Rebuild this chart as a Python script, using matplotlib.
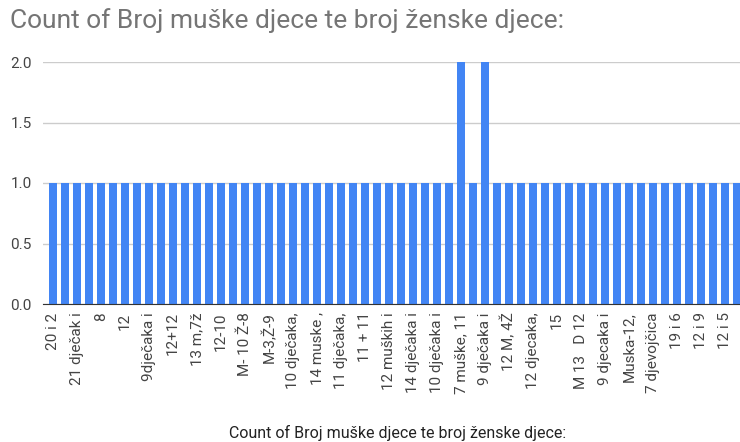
import matplotlib.pyplot as plt

plt.rcParams['font.family'] = ['Roboto', 'DejaVu Sans']

# tick labels shown on every other bar
labels = ['20 i 2', '21 dječak i', '8', '12', '9dječaka i', '12+12', '13 m,7ž',
          '12-10', 'M- 10 Ž-8', 'M-3,Ž-9', '10 dječaka,', '14 muske ,',
          '11 dječaka,', '11 + 11', '12 muških i', '14 dječaka i', '10 dječaka i',
          '7 muške, 11', '9 dječaka i', '12 M, 4Ž', '12 djecaka,', '15',
          'M 13   D 12', '9 djecaka i', 'Muska-12,', '7 djevojčica', '19 i 6',
          '12 i 9', '12 i 5']

# count per bar (58 bars, two of them at 2)
counts = [1] * 34 + [2, 1, 2] + [1] * 21

title = 'Count of Broj muške djece te broj ženske djece:'

fig = plt.figure(figsize=(7.4, 4.42), dpi=100)
ax = fig.add_axes([43 / 740, 1 - 304 / 442, 697 / 740, 242 / 442])

x = range(len(counts))
ax.bar(x, counts, width=0.68, color='#4285F4', zorder=3)

ax.set_xlim(-0.83, 57.25)
ax.set_ylim(0, 2.0)
ax.set_yticks([0, 0.5, 1.0, 1.5, 2.0])
ax.set_yticklabels(['0.0', '0.5', '1.0', '1.5', '2.0'])
ax.grid(axis='y', color='#cccccc', linewidth=1, zorder=0)
ax.set_xticks(list(range(0, 2 * len(labels), 2)))
ax.set_xticklabels(labels, rotation=90, va='top', ha='center')

for s in ['top', 'right', 'left']:
    ax.spines[s].set_visible(False)
ax.spines['bottom'].set_color('#333333')
ax.spines['bottom'].set_zorder(4)
ax.tick_params(axis='both', length=0, labelsize=11, colors='#444444', pad=6)
ax.tick_params(axis='y', pad=8)

fig.text(10 / 740, 1 - 21 / 442, title, fontsize=19, color='#757575',
         va='center', ha='left')
fig.text(398 / 740, 1 - 433 / 442, title, fontsize=11.5, color='#222222',
         va='center', ha='center')

fig.savefig('out.png', dpi=100)
